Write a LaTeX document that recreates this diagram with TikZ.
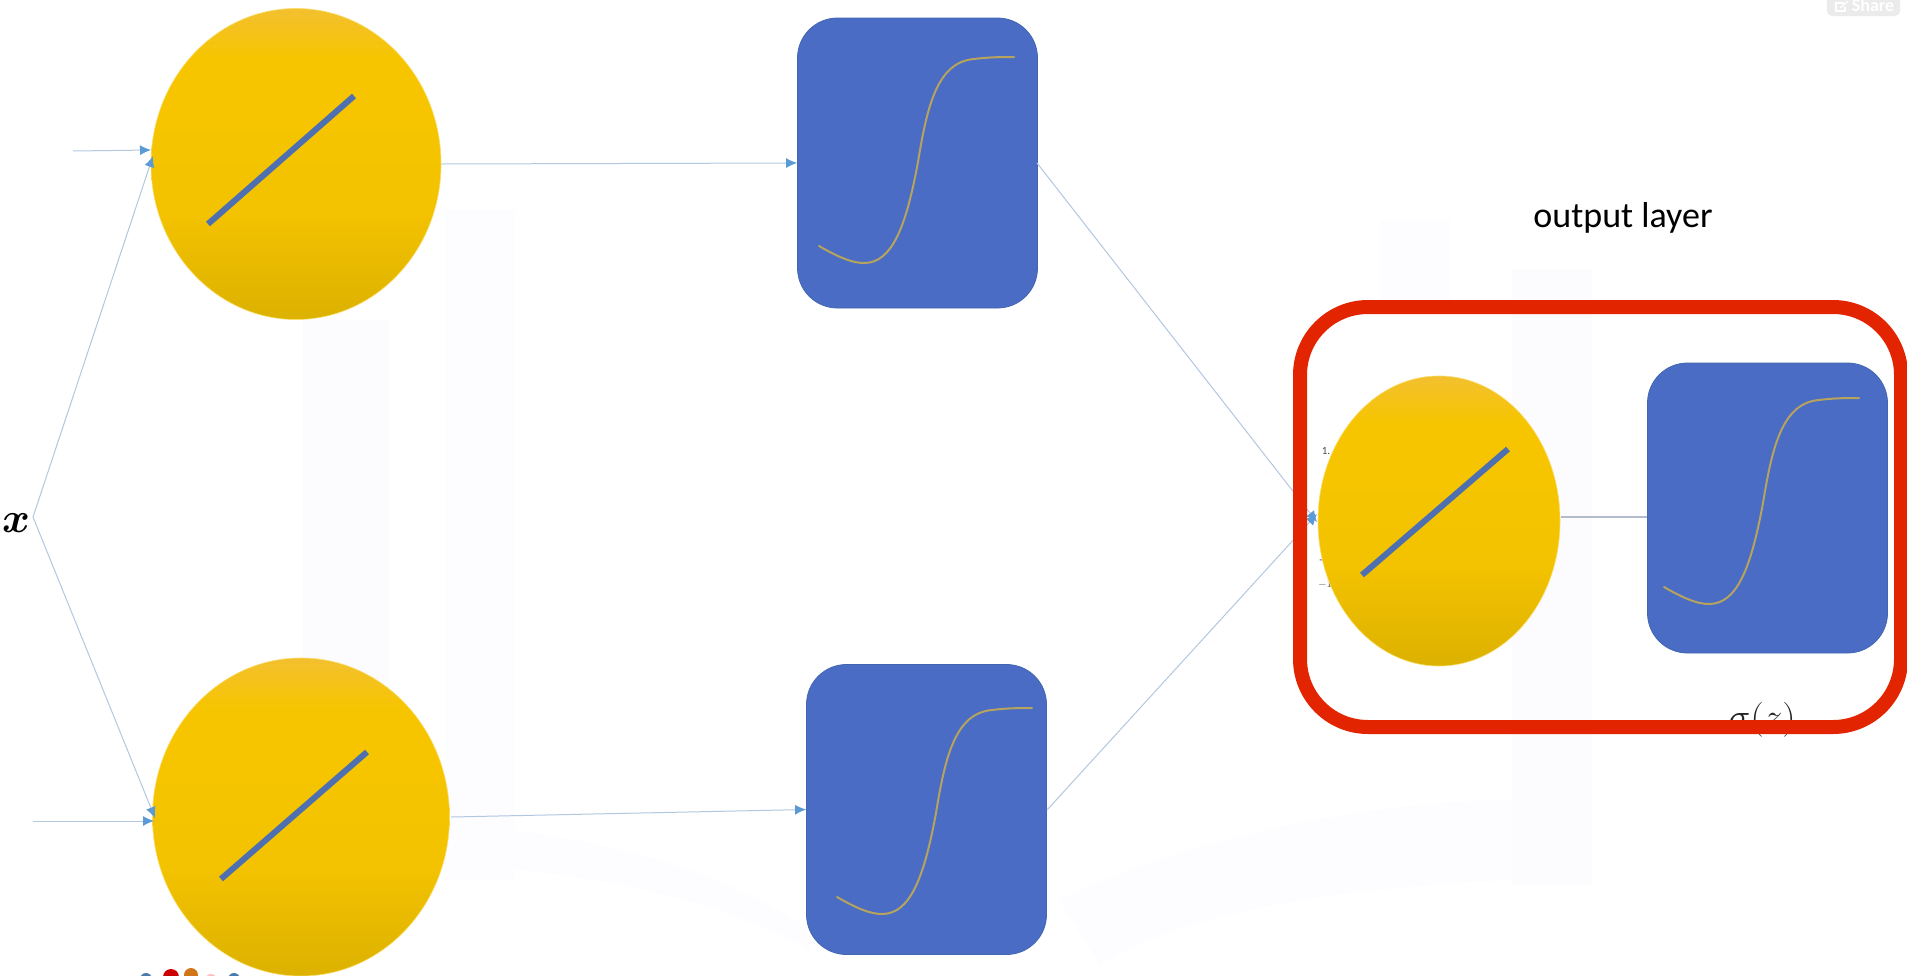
\documentclass[tikz,border=0pt]{standalone}
\usepackage{fontspec}
\setsansfont{Carlito}
\usetikzlibrary{shapes.geometric,arrows.meta}
\definecolor{wire}{HTML}{B2C7E0}
\definecolor{wiregrey}{HTML}{B4BCCB}
\definecolor{tipblue}{HTML}{5B9BD5}
\definecolor{boxblue}{HTML}{4A6CC4}
\definecolor{boxedge}{HTML}{4366B0}
\definecolor{curvegold}{HTML}{B5A35E}
\definecolor{linblue}{HTML}{4E70B0}
\definecolor{framered}{HTML}{E32400}
\definecolor{wm}{HTML}{FCFBFE}
\definecolor{wmb}{HTML}{FDFDFF}
\definecolor{ballA}{HTML}{F3C02F}
\definecolor{ballB}{HTML}{F6C500}
\definecolor{ballC}{HTML}{F3C200}
\definecolor{ballD}{HTML}{DDB200}
\pgfdeclareverticalshading{ballshade}{100bp}{color(0bp)=(ballD);color(26bp)=(ballD);color(42bp)=(ballC);color(58bp)=(ballB);color(67bp)=(ballB);color(75bp)=(ballA);color(100bp)=(ballA)}
\tikzset{
  ball/.style={ellipse,shading=ballshade,draw=ballB!60!white,line width=0.6pt,inner sep=0pt},
  sbox/.style={rectangle,rounded corners=40pt,fill=boxblue,draw=boxedge,line width=0.8pt,inner sep=0pt,minimum width=240pt,minimum height=290pt},
  wirearrow/.style={draw=wire,line width=1pt,-{Latex[length=11pt,width=10pt,color=tipblue]}},
  wireplain/.style={draw=wiregrey,line width=1.2pt},
  linear/.style={draw=linblue,line width=6pt},
  sigmoid/.style={draw=curvegold,line width=2pt,line cap=round},
  wmark/.style={fill=wm,draw=none},
  wmarkb/.style={fill=wmb,draw=none}
}
% sigmoid curve, relative to the top-left corner of a box
\newcommand{\sigcurve}[2]{\draw[sigmoid,shift={(#1,#2)}] (17,224) .. controls (36,235) and (50,241) .. (62,241) .. controls (90,241) and (104,205) .. (116,140) .. controls (125,85) and (135,40) .. (172,37) .. controls (188,35) and (200,35) .. (212,35);}
\begin{document}
\begin{tikzpicture}[x=1pt,y=-1pt]
\useasboundingbox (0,0) rectangle (1907,975);
\clip (0,0) rectangle (1907,975);
\fill[white] (0,0) rectangle (1907,975);
% faint watermark
\fill[wmark] (303,320) rectangle (390,900);
\fill[wmarkb] (445,210) rectangle (515,880);
\fill[wmark] (1512,270) rectangle (1592,885);
\fill[wmarkb] (1380,220) rectangle (1450,300);
\fill[wmarkb] (390,860) .. controls (600,870) and (720,900) .. (810,950) -- (810,930) .. controls (720,870) and (600,830) .. (390,820) -- cycle;
\fill[wmarkb] (1512,880) .. controls (1400,885) and (1200,900) .. (1100,965) -- (1060,900) .. controls (1200,830) and (1400,800) .. (1512,800) -- cycle;
% logo remnants at the lower edge
\fill[tipblue!80!black] (146,979) circle (6);
\fill[red!80!black] (171,977) circle (8);
\fill[orange!80!black!90] (191,975) circle (7);
\fill[pink] (211,980) circle (6);
\fill[tipblue!80!black] (234,979) circle (6);
% small axis labels behind the third circle
\node[font=\fontsize{11}{11}\selectfont\sffamily,text=black!70,inner sep=0pt] (axa) at (1326,451) {1.};
\node[font=\fontsize{11}{11}\selectfont\sffamily,text=black!70,inner sep=0pt] (axb) at (1325,584) {$-1$};
\node[font=\fontsize{11}{11}\selectfont\sffamily,text=black!70,inner sep=0pt] (axc) at (1321,562) {-};
% free ends
\coordinate (in1) at (73,151);
\coordinate (in2) at (33,821);
\node[font=\fontsize{25}{25}\selectfont,inner sep=0pt] (x) at (16,523) {\scalebox{1.7}{\boldmath$x$}};
\coordinate (xp) at (33,517);
% nodes
\node[ball,minimum width=290pt,minimum height=311pt] (n1) at (296,164) {};
\node[ball,minimum width=297pt,minimum height=318pt] (n2) at (301,817) {};
\node[ball,minimum width=242pt,minimum height=290pt] (n3) at (1439,521) {};
\node[sbox] (s1) at (917.5,163) {};
\node[sbox] (s2) at (926.5,809.5) {};
\node[sbox] (s3) at (1767.5,508) {};
% arrows
\draw[wirearrow] (in1) -- (151,150);
\draw[wirearrow] (xp) -- (153,156);
\draw[wirearrow] (xp) -- (155,818);
\draw[wirearrow] (in2) -- (154,821);
\draw[wirearrow] (n1.east) -- (s1.west);
\draw[wirearrow] (451,817) -- (s2.west);
\draw[wirearrow] (1037,163) -- (1317,522);
\draw[wirearrow] (1047,810) -- (1317,514);
\draw[wireplain] (1561,517) -- (1647,517);
% linear activations
\draw[linear] (208,224) -- (354,96);
\draw[linear] (221,879) -- (367,752);
\draw[linear] (1362,575) -- (1508,449);
% sigmoids
\sigcurve{802}{22}
\sigcurve{820}{673}
\sigcurve{1647}{363}
% labels
\node[font=\fontsize{36}{36}\selectfont\sffamily,inner sep=0pt] (lab) at (1623,218) {output layer};
\node[font=\fontsize{25}{25}\selectfont,inner sep=0pt,text=black!85] (sig) at (1762,720) {\scalebox{1.5}[1.4]{$\sigma(z)$}};
% output frame
\draw[framered,line width=14pt,rounded corners=68pt] (1300,307) rectangle (1901,727);
% share button
\fill[black!8,rounded corners=5pt] (1827,-8) rectangle (1900,16);
\node[font=\fontsize{18}{18}\selectfont\sffamily\bfseries,text=white,inner sep=0pt] (share) at (1873,5) {Share};
\draw[white,line width=1.2pt] (1844,3) -- (1836,3) -- (1836,11) -- (1845,11) -- (1845,7);
\draw[white,line width=1.2pt] (1840,8) -- (1848,1);
\end{tikzpicture}
\end{document}
